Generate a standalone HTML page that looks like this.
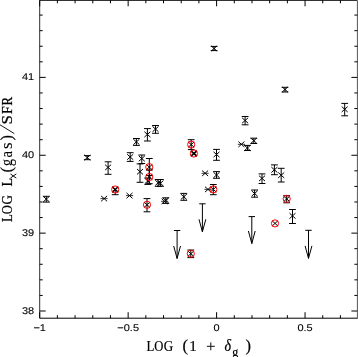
<!DOCTYPE html>
<html><head><meta charset="utf-8"><style>
html,body{margin:0;padding:0;background:#fff;}
svg{display:block;will-change:transform;filter:blur(0.3px);}
.tk{font-family:"Liberation Sans",sans-serif;font-size:9.8px;fill:#000;stroke:#000;stroke-width:0.1px;text-rendering:geometricPrecision;}
.tt{font-family:"Liberation Serif",serif;font-size:13px;fill:#000;}
</style></head><body>
<svg width="358" height="357" viewBox="0 0 358 357">
<rect width="358" height="357" fill="#fff"/>
<path d="M39.7,0.3H357.4M39.7,318.2H357.4" fill="none" stroke="#000" stroke-width="1.0"/>
<path d="M39.7,0.3V318.2" fill="none" stroke="#222" stroke-width="0.95"/>
<path d="M357.4,0.3V318.7" fill="none" stroke="#555" stroke-width="1.0"/>
<line x1="39.70" y1="318.2" x2="39.70" y2="312.2" stroke="#000" stroke-width="1"/>
<line x1="39.70" y1="0.3" x2="39.70" y2="6.3" stroke="#000" stroke-width="1"/>
<line x1="57.39" y1="318.2" x2="57.39" y2="315.2" stroke="#000" stroke-width="1"/>
<line x1="57.39" y1="0.3" x2="57.39" y2="3.3" stroke="#000" stroke-width="1"/>
<line x1="75.08" y1="318.2" x2="75.08" y2="315.2" stroke="#000" stroke-width="1"/>
<line x1="75.08" y1="0.3" x2="75.08" y2="3.3" stroke="#000" stroke-width="1"/>
<line x1="92.77" y1="318.2" x2="92.77" y2="315.2" stroke="#000" stroke-width="1"/>
<line x1="92.77" y1="0.3" x2="92.77" y2="3.3" stroke="#000" stroke-width="1"/>
<line x1="110.46" y1="318.2" x2="110.46" y2="315.2" stroke="#000" stroke-width="1"/>
<line x1="110.46" y1="0.3" x2="110.46" y2="3.3" stroke="#000" stroke-width="1"/>
<line x1="128.15" y1="318.2" x2="128.15" y2="312.2" stroke="#000" stroke-width="1"/>
<line x1="128.15" y1="0.3" x2="128.15" y2="6.3" stroke="#000" stroke-width="1"/>
<line x1="145.84" y1="318.2" x2="145.84" y2="315.2" stroke="#000" stroke-width="1"/>
<line x1="145.84" y1="0.3" x2="145.84" y2="3.3" stroke="#000" stroke-width="1"/>
<line x1="163.53" y1="318.2" x2="163.53" y2="315.2" stroke="#000" stroke-width="1"/>
<line x1="163.53" y1="0.3" x2="163.53" y2="3.3" stroke="#000" stroke-width="1"/>
<line x1="181.22" y1="318.2" x2="181.22" y2="315.2" stroke="#000" stroke-width="1"/>
<line x1="181.22" y1="0.3" x2="181.22" y2="3.3" stroke="#000" stroke-width="1"/>
<line x1="198.91" y1="318.2" x2="198.91" y2="315.2" stroke="#000" stroke-width="1"/>
<line x1="198.91" y1="0.3" x2="198.91" y2="3.3" stroke="#000" stroke-width="1"/>
<line x1="216.60" y1="318.2" x2="216.60" y2="312.2" stroke="#000" stroke-width="1"/>
<line x1="216.60" y1="0.3" x2="216.60" y2="6.3" stroke="#000" stroke-width="1"/>
<line x1="234.29" y1="318.2" x2="234.29" y2="315.2" stroke="#000" stroke-width="1"/>
<line x1="234.29" y1="0.3" x2="234.29" y2="3.3" stroke="#000" stroke-width="1"/>
<line x1="251.98" y1="318.2" x2="251.98" y2="315.2" stroke="#000" stroke-width="1"/>
<line x1="251.98" y1="0.3" x2="251.98" y2="3.3" stroke="#000" stroke-width="1"/>
<line x1="269.67" y1="318.2" x2="269.67" y2="315.2" stroke="#000" stroke-width="1"/>
<line x1="269.67" y1="0.3" x2="269.67" y2="3.3" stroke="#000" stroke-width="1"/>
<line x1="287.36" y1="318.2" x2="287.36" y2="315.2" stroke="#000" stroke-width="1"/>
<line x1="287.36" y1="0.3" x2="287.36" y2="3.3" stroke="#000" stroke-width="1"/>
<line x1="305.05" y1="318.2" x2="305.05" y2="312.2" stroke="#000" stroke-width="1"/>
<line x1="305.05" y1="0.3" x2="305.05" y2="6.3" stroke="#000" stroke-width="1"/>
<line x1="322.74" y1="318.2" x2="322.74" y2="315.2" stroke="#000" stroke-width="1"/>
<line x1="322.74" y1="0.3" x2="322.74" y2="3.3" stroke="#000" stroke-width="1"/>
<line x1="340.43" y1="318.2" x2="340.43" y2="315.2" stroke="#000" stroke-width="1"/>
<line x1="340.43" y1="0.3" x2="340.43" y2="3.3" stroke="#000" stroke-width="1"/>
<line x1="39.7" y1="311.00" x2="45.7" y2="311.00" stroke="#000" stroke-width="1"/>
<line x1="357.4" y1="311.00" x2="351.4" y2="311.00" stroke="#000" stroke-width="1"/>
<line x1="39.7" y1="295.43" x2="42.7" y2="295.43" stroke="#000" stroke-width="1"/>
<line x1="357.4" y1="295.43" x2="354.4" y2="295.43" stroke="#000" stroke-width="1"/>
<line x1="39.7" y1="279.85" x2="42.7" y2="279.85" stroke="#000" stroke-width="1"/>
<line x1="357.4" y1="279.85" x2="354.4" y2="279.85" stroke="#000" stroke-width="1"/>
<line x1="39.7" y1="264.28" x2="42.7" y2="264.28" stroke="#000" stroke-width="1"/>
<line x1="357.4" y1="264.28" x2="354.4" y2="264.28" stroke="#000" stroke-width="1"/>
<line x1="39.7" y1="248.70" x2="42.7" y2="248.70" stroke="#000" stroke-width="1"/>
<line x1="357.4" y1="248.70" x2="354.4" y2="248.70" stroke="#000" stroke-width="1"/>
<line x1="39.7" y1="233.13" x2="45.7" y2="233.13" stroke="#000" stroke-width="1"/>
<line x1="357.4" y1="233.13" x2="351.4" y2="233.13" stroke="#000" stroke-width="1"/>
<line x1="39.7" y1="217.56" x2="42.7" y2="217.56" stroke="#000" stroke-width="1"/>
<line x1="357.4" y1="217.56" x2="354.4" y2="217.56" stroke="#000" stroke-width="1"/>
<line x1="39.7" y1="201.98" x2="42.7" y2="201.98" stroke="#000" stroke-width="1"/>
<line x1="357.4" y1="201.98" x2="354.4" y2="201.98" stroke="#000" stroke-width="1"/>
<line x1="39.7" y1="186.41" x2="42.7" y2="186.41" stroke="#000" stroke-width="1"/>
<line x1="357.4" y1="186.41" x2="354.4" y2="186.41" stroke="#000" stroke-width="1"/>
<line x1="39.7" y1="170.83" x2="42.7" y2="170.83" stroke="#000" stroke-width="1"/>
<line x1="357.4" y1="170.83" x2="354.4" y2="170.83" stroke="#000" stroke-width="1"/>
<line x1="39.7" y1="155.26" x2="45.7" y2="155.26" stroke="#000" stroke-width="1"/>
<line x1="357.4" y1="155.26" x2="351.4" y2="155.26" stroke="#000" stroke-width="1"/>
<line x1="39.7" y1="139.69" x2="42.7" y2="139.69" stroke="#000" stroke-width="1"/>
<line x1="357.4" y1="139.69" x2="354.4" y2="139.69" stroke="#000" stroke-width="1"/>
<line x1="39.7" y1="124.11" x2="42.7" y2="124.11" stroke="#000" stroke-width="1"/>
<line x1="357.4" y1="124.11" x2="354.4" y2="124.11" stroke="#000" stroke-width="1"/>
<line x1="39.7" y1="108.54" x2="42.7" y2="108.54" stroke="#000" stroke-width="1"/>
<line x1="357.4" y1="108.54" x2="354.4" y2="108.54" stroke="#000" stroke-width="1"/>
<line x1="39.7" y1="92.96" x2="42.7" y2="92.96" stroke="#000" stroke-width="1"/>
<line x1="357.4" y1="92.96" x2="354.4" y2="92.96" stroke="#000" stroke-width="1"/>
<line x1="39.7" y1="77.39" x2="45.7" y2="77.39" stroke="#000" stroke-width="1"/>
<line x1="357.4" y1="77.39" x2="351.4" y2="77.39" stroke="#000" stroke-width="1"/>
<line x1="39.7" y1="61.82" x2="42.7" y2="61.82" stroke="#000" stroke-width="1"/>
<line x1="357.4" y1="61.82" x2="354.4" y2="61.82" stroke="#000" stroke-width="1"/>
<line x1="39.7" y1="46.24" x2="42.7" y2="46.24" stroke="#000" stroke-width="1"/>
<line x1="357.4" y1="46.24" x2="354.4" y2="46.24" stroke="#000" stroke-width="1"/>
<line x1="39.7" y1="30.67" x2="42.7" y2="30.67" stroke="#000" stroke-width="1"/>
<line x1="357.4" y1="30.67" x2="354.4" y2="30.67" stroke="#000" stroke-width="1"/>
<line x1="39.7" y1="15.09" x2="42.7" y2="15.09" stroke="#000" stroke-width="1"/>
<line x1="357.4" y1="15.09" x2="354.4" y2="15.09" stroke="#000" stroke-width="1"/>
<text transform="translate(34.10,313.80) scale(1.12,1)" text-anchor="end" class="tk">38</text>
<text transform="translate(34.10,235.93) scale(1.12,1)" text-anchor="end" class="tk">39</text>
<text transform="translate(34.10,158.06) scale(1.12,1)" text-anchor="end" class="tk">40</text>
<text transform="translate(34.10,80.19) scale(1.12,1)" text-anchor="end" class="tk">41</text>
<text transform="translate(39.70,331.40) scale(1.12,1)" text-anchor="middle" class="tk">−1</text>
<text transform="translate(128.15,331.40) scale(1.12,1)" text-anchor="middle" class="tk">−0.5</text>
<text transform="translate(216.60,331.40) scale(1.12,1)" text-anchor="middle" class="tk">0</text>
<text transform="translate(305.05,331.40) scale(1.12,1)" text-anchor="middle" class="tk">0.5</text>
<text transform="translate(146.50,350.60) scale(0.89,1)" font-family="Liberation Serif" font-size="14.5" stroke="#000" stroke-width="0.2">L</text>
<text transform="translate(154.29,350.60) scale(0.87,1)" font-family="Liberation Serif" font-size="14.5" stroke="#000" stroke-width="0.2">O</text>
<text transform="translate(163.78,350.60) scale(0.9,1)" font-family="Liberation Serif" font-size="14.5" stroke="#000" stroke-width="0.2">G</text>
<text x="182.50" y="351.00" font-family="Liberation Serif" font-size="16.5" font-style="normal" stroke="#000" stroke-width="0.2">(</text>
<text x="189.30" y="350.60" font-family="Liberation Serif" font-size="15" font-style="normal" stroke="#000" stroke-width="0.2">1</text>
<path d="M206.9,346.3H214.8M210.8,342.4V350.3" stroke="#111" stroke-width="1" fill="none"/>
<text transform="translate(224.5,350.5) scale(0.88,1)" font-family="Liberation Serif" font-size="16" font-style="italic" stroke="#000" stroke-width="0.2">δ</text>
<text x="232.30" y="356.10" font-family="Liberation Serif" font-size="12" font-style="normal" stroke="#000" stroke-width="0.2">g</text>
<text x="245.60" y="350.60" font-family="Liberation Serif" font-size="16.5" font-style="normal" stroke="#000" stroke-width="0.2">)</text>
<text transform="translate(12.20,221.99) rotate(-90) scale(0.92,1.0)" font-family="Liberation Serif" font-size="14" stroke="#000" stroke-width="0.2">L</text>
<text transform="translate(12.20,214.30) rotate(-90) scale(0.9,1.0)" font-family="Liberation Serif" font-size="14" stroke="#000" stroke-width="0.2">O</text>
<text transform="translate(12.20,204.61) rotate(-90) scale(0.93,1.0)" font-family="Liberation Serif" font-size="14" stroke="#000" stroke-width="0.2">G</text>
<text transform="translate(12.20,186.50) rotate(-90)" font-family="Liberation Serif" font-size="14" font-style="normal" stroke="#000" stroke-width="0.2">L</text>
<path d="M10.4,173.9L16.3,178.1M10.4,178.1L16.3,173.9" stroke="#000" stroke-width="0.95" fill="none"/>
<text transform="translate(12.30,172.50) rotate(-90)" font-family="Liberation Serif" font-size="16.5" font-style="normal" stroke="#000" stroke-width="0.2">(</text>
<text transform="translate(12.20,165.88) rotate(-90) scale(1.0,1.15)" font-family="Liberation Serif" font-size="14" stroke="#000" stroke-width="0.1">g</text>
<text transform="translate(12.20,157.56) rotate(-90) scale(1.05,1.15)" font-family="Liberation Serif" font-size="14" stroke="#000" stroke-width="0.1">a</text>
<text transform="translate(12.20,149.12) rotate(-90) scale(1.2,1.15)" font-family="Liberation Serif" font-size="14" stroke="#000" stroke-width="0.1">s</text>
<text transform="translate(12.30,140.50) rotate(-90)" font-family="Liberation Serif" font-size="16.5" font-style="normal" stroke="#000" stroke-width="0.2">)</text>
<line x1="0" y1="124.8" x2="14.3" y2="133.6" stroke="#000" stroke-width="0.9"/>
<text transform="translate(12.20,124.58) rotate(-90) scale(1.2,1.0)" font-family="Liberation Serif" font-size="14" stroke="#000" stroke-width="0.25">S</text>
<text transform="translate(12.20,114.02) rotate(-90) scale(1.0,1.0)" font-family="Liberation Serif" font-size="14" stroke="#000" stroke-width="0.25">F</text>
<text transform="translate(12.20,105.44) rotate(-90) scale(0.92,1.0)" font-family="Liberation Serif" font-size="14" stroke="#000" stroke-width="0.25">R</text>
<path d="M46.30,196.30L46.30,202.10M42.90,196.30L49.70,196.30M42.90,202.10L49.70,202.10" stroke="#000" stroke-width="1.0" fill="none"/>
<path d="M43.30,196.40L49.30,201.80M43.30,201.80L49.30,196.40" stroke="#000" stroke-width="1.0" fill="none"/>
<path d="M87.30,155.60L87.30,159.70M83.90,155.60L90.70,155.60M83.90,159.70L90.70,159.70" stroke="#000" stroke-width="1.0" fill="none"/>
<path d="M84.30,154.90L90.30,160.30M84.30,160.30L90.30,154.90" stroke="#000" stroke-width="1.0" fill="none"/>
<path d="M100.50,198.60H107.70" stroke="#222" stroke-width="0.9" fill="none"/>
<path d="M101.10,195.90L107.10,201.30M101.10,201.30L107.10,195.90" stroke="#000" stroke-width="1.0" fill="none"/>
<path d="M108.10,161.80L108.10,174.30M104.70,161.80L111.50,161.80M104.70,174.30L111.50,174.30" stroke="#000" stroke-width="1.0" fill="none"/>
<path d="M105.10,164.70L111.10,170.10M105.10,170.10L111.10,164.70" stroke="#000" stroke-width="1.0" fill="none"/>
<path d="M125.90,195.60H133.10" stroke="#222" stroke-width="0.9" fill="none"/>
<path d="M126.50,192.90L132.50,198.30M126.50,198.30L132.50,192.90" stroke="#000" stroke-width="1.0" fill="none"/>
<path d="M130.20,152.70L130.20,161.40M126.80,152.70L133.60,152.70M126.80,161.40L133.60,161.40" stroke="#000" stroke-width="1.0" fill="none"/>
<path d="M127.20,154.30L133.20,159.70M127.20,159.70L133.20,154.30" stroke="#000" stroke-width="1.0" fill="none"/>
<path d="M136.40,138.50L136.40,145.40M133.00,138.50L139.80,138.50M133.00,145.40L139.80,145.40" stroke="#000" stroke-width="1.0" fill="none"/>
<path d="M133.40,139.20L139.40,144.60M133.40,144.60L139.40,139.20" stroke="#000" stroke-width="1.0" fill="none"/>
<path d="M147.40,128.60L147.40,141.00M144.00,128.60L150.80,128.60M144.00,141.00L150.80,141.00" stroke="#000" stroke-width="1.0" fill="none"/>
<path d="M144.40,131.70L150.40,137.10M144.40,137.10L150.40,131.70" stroke="#000" stroke-width="1.0" fill="none"/>
<path d="M155.50,125.50L155.50,133.30M152.10,125.50L158.90,125.50M152.10,133.30L158.90,133.30" stroke="#000" stroke-width="1.0" fill="none"/>
<path d="M152.50,126.40L158.50,131.80M152.50,131.80L158.50,126.40" stroke="#000" stroke-width="1.0" fill="none"/>
<path d="M141.80,155.00L141.80,163.50M138.40,155.00L145.20,155.00M138.40,163.50L145.20,163.50" stroke="#000" stroke-width="1.0" fill="none"/>
<path d="M138.80,155.90L144.80,161.30M138.80,161.30L144.80,155.90" stroke="#000" stroke-width="1.0" fill="none"/>
<path d="M140.00,163.90L140.00,182.30M136.60,163.90L143.40,163.90M136.60,182.30L143.40,182.30" stroke="#000" stroke-width="1.0" fill="none"/>
<path d="M137.00,169.00L143.00,174.40M137.00,174.40L143.00,169.00" stroke="#000" stroke-width="1.0" fill="none"/>
<path d="M158.20,179.50L158.20,186.30M154.80,179.50L161.60,179.50M154.80,186.30L161.60,186.30" stroke="#000" stroke-width="1.0" fill="none"/>
<path d="M155.20,180.10L161.20,185.50M155.20,185.50L161.20,180.10" stroke="#000" stroke-width="1.0" fill="none"/>
<path d="M160.40,179.50L160.40,186.30M157.00,179.50L163.80,179.50M157.00,186.30L163.80,186.30" stroke="#000" stroke-width="1.0" fill="none"/>
<path d="M157.40,180.60L163.40,186.00M157.40,186.00L163.40,180.60" stroke="#000" stroke-width="1.0" fill="none"/>
<path d="M165.80,197.80L165.80,203.40M162.40,197.80L169.20,197.80M162.40,203.40L169.20,203.40" stroke="#000" stroke-width="1.0" fill="none"/>
<path d="M162.80,197.80L168.80,203.20M162.80,203.20L168.80,197.80" stroke="#000" stroke-width="1.0" fill="none"/>
<path d="M183.80,193.40L183.80,200.30M180.40,193.40L187.20,193.40M180.40,200.30L187.20,200.30" stroke="#000" stroke-width="1.0" fill="none"/>
<path d="M180.80,194.10L186.80,199.50M180.80,199.50L186.80,194.10" stroke="#000" stroke-width="1.0" fill="none"/>
<path d="M214.10,46.40L214.10,50.60M210.70,46.40L217.50,46.40M210.70,50.60L217.50,50.60" stroke="#000" stroke-width="1.0" fill="none"/>
<path d="M211.10,45.80L217.10,51.20M211.10,51.20L217.10,45.80" stroke="#000" stroke-width="1.0" fill="none"/>
<path d="M216.50,149.40L216.50,160.30M213.10,149.40L219.90,149.40M213.10,160.30L219.90,160.30" stroke="#000" stroke-width="1.0" fill="none"/>
<path d="M213.50,151.80L219.50,157.20M213.50,157.20L219.50,151.80" stroke="#000" stroke-width="1.0" fill="none"/>
<path d="M201.50,173.30H208.70" stroke="#222" stroke-width="0.9" fill="none"/>
<path d="M202.10,170.60L208.10,176.00M202.10,176.00L208.10,170.60" stroke="#000" stroke-width="1.0" fill="none"/>
<path d="M216.50,171.60L216.50,178.30M213.10,171.60L219.90,171.60M213.10,178.30L219.90,178.30" stroke="#000" stroke-width="1.0" fill="none"/>
<path d="M213.50,172.30L219.50,177.70M213.50,177.70L219.50,172.30" stroke="#000" stroke-width="1.0" fill="none"/>
<path d="M245.10,116.50L245.10,124.80M241.70,116.50L248.50,116.50M241.70,124.80L248.50,124.80" stroke="#000" stroke-width="1.0" fill="none"/>
<path d="M242.10,117.80L248.10,123.20M242.10,123.20L248.10,117.80" stroke="#000" stroke-width="1.0" fill="none"/>
<path d="M237.80,144.30H245.00" stroke="#222" stroke-width="0.9" fill="none"/>
<path d="M238.40,141.60L244.40,147.00M238.40,147.00L244.40,141.60" stroke="#000" stroke-width="1.0" fill="none"/>
<path d="M247.40,145.40L247.40,150.50M244.00,145.40L250.80,145.40M244.00,150.50L250.80,150.50" stroke="#000" stroke-width="1.0" fill="none"/>
<path d="M244.40,145.30L250.40,150.70M244.40,150.70L250.40,145.30" stroke="#000" stroke-width="1.0" fill="none"/>
<path d="M253.80,138.20L253.80,143.50M250.40,138.20L257.20,138.20M250.40,143.50L257.20,143.50" stroke="#000" stroke-width="1.0" fill="none"/>
<path d="M250.80,138.00L256.80,143.40M250.80,143.40L256.80,138.00" stroke="#000" stroke-width="1.0" fill="none"/>
<path d="M254.60,190.00L254.60,197.20M251.20,190.00L258.00,190.00M251.20,197.20L258.00,197.20" stroke="#000" stroke-width="1.0" fill="none"/>
<path d="M251.60,190.80L257.60,196.20M251.60,196.20L257.60,190.80" stroke="#000" stroke-width="1.0" fill="none"/>
<path d="M262.00,173.90L262.00,183.50M258.60,173.90L265.40,173.90M258.60,183.50L265.40,183.50" stroke="#000" stroke-width="1.0" fill="none"/>
<path d="M259.00,175.70L265.00,181.10M259.00,181.10L265.00,175.70" stroke="#000" stroke-width="1.0" fill="none"/>
<path d="M274.40,164.90L274.40,174.70M271.00,164.90L277.80,164.90M271.00,174.70L277.80,174.70" stroke="#000" stroke-width="1.0" fill="none"/>
<path d="M271.40,167.10L277.40,172.50M271.40,172.50L277.40,167.10" stroke="#000" stroke-width="1.0" fill="none"/>
<path d="M281.20,168.30L281.20,182.00M277.80,168.30L284.60,168.30M277.80,182.00L284.60,182.00" stroke="#000" stroke-width="1.0" fill="none"/>
<path d="M278.20,172.50L284.20,177.90M278.20,177.90L284.20,172.50" stroke="#000" stroke-width="1.0" fill="none"/>
<path d="M285.00,87.30L285.00,92.00M281.60,87.30L288.40,87.30M281.60,92.00L288.40,92.00" stroke="#000" stroke-width="1.0" fill="none"/>
<path d="M282.00,86.80L288.00,92.20M282.00,92.20L288.00,86.80" stroke="#000" stroke-width="1.0" fill="none"/>
<path d="M292.50,209.50L292.50,223.50M289.10,209.50L295.90,209.50M289.10,223.50L295.90,223.50" stroke="#000" stroke-width="1.0" fill="none"/>
<path d="M289.50,213.20L295.50,218.60M289.50,218.60L295.50,213.20" stroke="#000" stroke-width="1.0" fill="none"/>
<path d="M344.70,103.40L344.70,115.80M341.30,103.40L348.10,103.40M341.30,115.80L348.10,115.80" stroke="#000" stroke-width="1.0" fill="none"/>
<path d="M341.70,106.60L347.70,112.00M341.70,112.00L347.70,106.60" stroke="#000" stroke-width="1.0" fill="none"/>
<path d="M204.40,189.40H211.60" stroke="#222" stroke-width="0.9" fill="none"/>
<path d="M205.00,186.70L211.00,192.10M205.00,192.10L211.00,186.70" stroke="#000" stroke-width="1.0" fill="none"/>
<path d="M147.80,178.00L147.80,184.40M144.40,178.00L151.20,178.00M144.40,184.40L151.20,184.40" stroke="#000" stroke-width="1.0" fill="none"/>
<path d="M144.80,178.30L150.80,183.70M144.80,183.70L150.80,178.30" stroke="#000" stroke-width="1.0" fill="none"/>
<path d="M161.00,201.30H168.20" stroke="#222" stroke-width="0.9" fill="none"/>
<path d="M161.60,198.60L167.60,204.00M161.60,204.00L167.60,198.60" stroke="#000" stroke-width="1.0" fill="none"/>
<path d="M115.2,189.5V194.7M111.8,194.7H118.6" stroke="#000" stroke-width="1" fill="none"/>
<path d="M112.20,186.80L118.20,192.20M112.20,192.20L118.20,186.80" stroke="#000" stroke-width="1.0" fill="none"/>
<path d="M112.20,186.80L118.20,192.20M112.20,192.20L118.20,186.80" stroke="#000" stroke-width="1.35" fill="none"/>
<circle cx="115.20" cy="189.50" r="3.6" fill="none" stroke="#f00" stroke-width="1.0"/>
<path d="M149.30,158.50L149.30,175.50M145.90,158.50L152.70,158.50M145.90,175.50L152.70,175.50" stroke="#000" stroke-width="1.0" fill="none"/>
<path d="M146.30,164.40L152.30,169.80M146.30,169.80L152.30,164.40" stroke="#000" stroke-width="1.0" fill="none"/>
<circle cx="149.30" cy="167.10" r="3.6" fill="none" stroke="#f00" stroke-width="1.0"/>
<path d="M149.30,170.00L149.30,183.70M145.90,170.00L152.70,170.00M145.90,183.70L152.70,183.70" stroke="#000" stroke-width="1.0" fill="none"/>
<path d="M146.30,174.30L152.30,179.70M146.30,179.70L152.30,174.30" stroke="#000" stroke-width="1.0" fill="none"/>
<circle cx="149.30" cy="177.00" r="3.6" fill="none" stroke="#f00" stroke-width="1.0"/>
<path d="M147.00,198.60L147.00,211.80M143.60,198.60L150.40,198.60M143.60,211.80L150.40,211.80" stroke="#000" stroke-width="1.0" fill="none"/>
<path d="M144.00,202.10L150.00,207.50M144.00,207.50L150.00,202.10" stroke="#000" stroke-width="1.0" fill="none"/>
<circle cx="147.00" cy="204.80" r="3.6" fill="none" stroke="#f00" stroke-width="1.0"/>
<path d="M191.20,139.70L191.20,149.60M187.80,139.70L194.60,139.70M187.80,149.60L194.60,149.60" stroke="#000" stroke-width="1.0" fill="none"/>
<path d="M188.20,141.90L194.20,147.30M188.20,147.30L194.20,141.90" stroke="#000" stroke-width="1.0" fill="none"/>
<circle cx="191.20" cy="144.60" r="3.6" fill="none" stroke="#f00" stroke-width="1.0"/>
<path d="M190.90,150.80L196.90,156.20M190.90,156.20L196.90,150.80" stroke="#000" stroke-width="1.0" fill="none"/>
<path d="M190.90,150.80L196.90,156.20M190.90,156.20L196.90,150.80" stroke="#000" stroke-width="1.6" fill="none"/>
<circle cx="193.90" cy="153.50" r="3.6" fill="none" stroke="#f00" stroke-width="1.0"/>
<path d="M213.30,184.50L213.30,194.70M209.90,184.50L216.70,184.50M209.90,194.70L216.70,194.70" stroke="#000" stroke-width="1.0" fill="none"/>
<path d="M210.30,186.70L216.30,192.10M210.30,192.10L216.30,186.70" stroke="#000" stroke-width="1.0" fill="none"/>
<circle cx="213.30" cy="189.40" r="3.6" fill="none" stroke="#f00" stroke-width="1.0"/>
<path d="M190.80,250.00L190.80,257.60M187.40,250.00L194.20,250.00M187.40,257.60L194.20,257.60" stroke="#000" stroke-width="1.0" fill="none"/>
<path d="M187.80,251.00L193.80,256.40M187.80,256.40L193.80,251.00" stroke="#000" stroke-width="1.0" fill="none"/>
<circle cx="190.80" cy="253.70" r="3.6" fill="none" stroke="#f00" stroke-width="1.0"/>
<path d="M272.00,220.70L278.00,226.10M272.00,226.10L278.00,220.70" stroke="#000" stroke-width="1.0" fill="none"/>
<circle cx="275.00" cy="223.40" r="3.6" fill="none" stroke="#f00" stroke-width="1.0"/>
<path d="M286.70,195.70L286.70,202.80M283.30,195.70L290.10,195.70M283.30,202.80L290.10,202.80" stroke="#000" stroke-width="1.0" fill="none"/>
<path d="M283.70,196.20L289.70,201.60M283.70,201.60L289.70,196.20" stroke="#000" stroke-width="1.0" fill="none"/>
<circle cx="286.70" cy="198.90" r="3.6" fill="none" stroke="#f00" stroke-width="1.0"/>
<path d="M173.90,230.50L180.30,230.50M177.10,230.50L177.10,258.50M173.70,246.00L177.10,258.50L180.50,246.00" stroke="#000" stroke-width="1.0" fill="none"/>
<path d="M199.20,203.80L205.60,203.80M202.40,203.80L202.40,231.80M199.00,219.30L202.40,231.80L205.80,219.30" stroke="#000" stroke-width="1.0" fill="none"/>
<path d="M248.60,216.60L255.00,216.60M251.80,216.60L251.80,243.50M248.40,231.00L251.80,243.50L255.20,231.00" stroke="#000" stroke-width="1.0" fill="none"/>
<path d="M305.30,230.30L311.70,230.30M308.50,230.30L308.50,258.40M305.10,245.90L308.50,258.40L311.90,245.90" stroke="#000" stroke-width="1.0" fill="none"/>
</svg>
</body></html>
